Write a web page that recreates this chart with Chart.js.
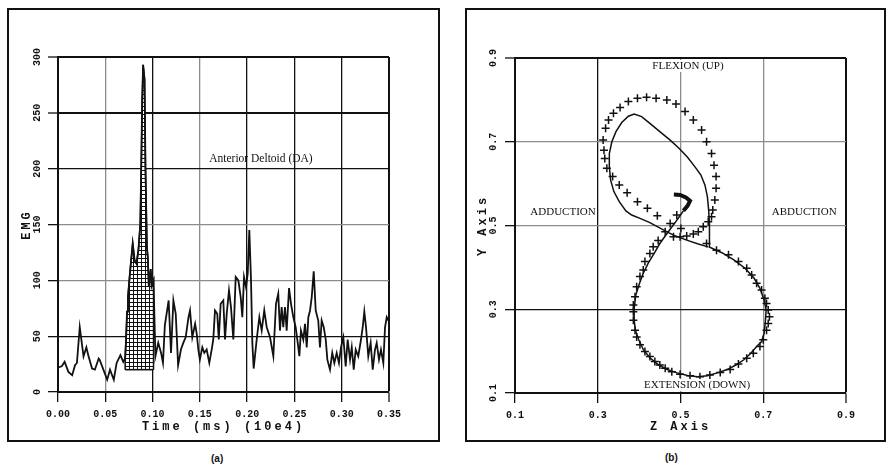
<!DOCTYPE html>
<html>
<head>
<meta charset="utf-8">
<script src="https://cdn.jsdelivr.net/npm/chart.js@4.4.1/dist/chart.umd.min.js"></script>
<style>
body { margin: 0; background: #fff; }
#page { position: relative; width: 886px; height: 465px; overflow: hidden; background: #fff; }
.frame { position: absolute; border: 2px solid #111; }
.frame canvas { display: block; }
.cap { position: absolute; font: bold 10px "Liberation Sans", sans-serif; color: #111; }
</style>
</head>
<body>
<div id="page">
  <div class="frame" style="left:7px;top:8px;width:429px;height:430px"><canvas id="emgChart" width="429" height="430"></canvas></div>
  <div class="frame" style="left:465px;top:8px;width:417px;height:430px"><canvas id="pathChart" width="417" height="430"></canvas></div>
  <div class="cap" style="left:211px;top:453px">(a)</div>
  <div class="cap" style="left:665px;top:452px">(b)</div>
</div>
<script>
// (a) EMG of the anterior deltoid
const emgTime = [0.000,0.004,0.007,0.011,0.015,0.018,0.020,0.023,0.027,0.030,0.032,0.036,0.039,0.043,0.044,0.048,0.052,0.055,0.059,0.062,0.066,0.069,
  0.071,0.072,0.073,0.074,0.076,0.079,0.081,0.083,0.085,0.087,0.088,0.089,0.090,0.0915,0.0925,0.094,0.095,0.096,0.098,0.099,0.101,
  0.103,0.106,0.109,0.111,0.113,0.117,0.1195,0.122,0.1245,0.127,0.130,0.1325,0.135,0.138,0.1396,0.142,0.145,0.1467,0.1484,0.150,
  0.1526,0.1547,0.1572,0.160,0.1625,0.1642,0.166,0.1684,0.170,0.172,0.1748,0.1766,0.1784,0.1808,0.1829,0.1854,0.1879,0.1907,0.1932,
  0.1949,0.1967,0.1988,0.2006,0.2023,0.2041,0.2055,0.2069,0.2101,0.2129,0.2154,0.2181,0.2207,0.2242,0.2277,0.2305,0.2329,0.2347,
  0.2365,0.2382,0.2400,0.2418,0.2443,0.2464,0.2488,0.2513,0.2535,0.2552,0.2569,0.2594,0.2612,0.2630,0.2647,0.2665,0.2683,0.2704,
  0.2725,0.2752,0.2770,0.2788,0.2810,0.2831,0.2848,0.2876,0.2900,0.2922,0.2947,0.2971,0.2992,0.3017,0.3042,0.3063,0.3088,0.3106,
  0.3127,0.3148,0.3175,0.3204,0.3222,0.3239,0.3257,0.3281,0.3306,0.3328,0.3352,0.3370,0.3394,0.3415,0.3440,0.3458,0.3476,0.3493]
const emgValue = [22,23,27,18,15,24,26,58,32,40,33,21,20,30,29,20,11,20,11,26,33,27,
  30,48,72,85,106,133,118,115,127,150,200,260,293,280,200,130,120,95,110,95,100,
  32,44,35,26,60,82,35,82,70,24,38,44,49,67,73,49,61,52,38,29,
  40,35,38,26,38,47,73,70,47,79,82,47,70,91,76,47,103,100,85,
  67,103,94,106,145,100,44,21,47,67,55,73,58,49,32,79,88,55,
  76,58,76,55,93,79,67,58,44,32,55,47,61,40,67,73,85,108,
  73,64,40,64,58,47,29,20,35,26,35,26,40,49,23,47,29,40,
  20,38,32,47,58,72,58,32,44,20,38,44,29,38,26,58,67,64]
// hatched burst
const hatchFrom = 0.071
const hatchTo = 0.101
const hatchFloor = 20

// (b) hand path in the Z-Y plane
const pathZ = [0.484,0.499,0.513,0.523,0.517,0.507,0.497,0.487,0.475,0.463,0.450,0.436,0.422,0.410,0.401,0.392,0.388,0.388,0.391,0.399,
  0.410,0.426,0.446,0.468,0.492,0.517,0.541,0.565,0.589,0.613,0.636,0.654,0.670,0.684,0.696,0.702,0.705,0.707,0.702,0.692,
  0.678,0.656,0.629,0.600,0.571,0.570,0.570,0.568,0.565,0.559,0.549,0.535,0.517,0.497,0.475,0.450,0.426,0.406,0.388,0.374,
  0.358,0.344,0.334,0.328,0.328,0.331,0.339,0.352,0.368,0.382,0.402,0.426,0.454,0.483,0.515,0.543,0.567]
const pathY = [0.574,0.573,0.567,0.559,0.547,0.535,0.521,0.507,0.491,0.475,0.457,0.433,0.410,0.386,0.362,0.334,0.302,0.274,0.250,0.227,
  0.204,0.184,0.168,0.156,0.148,0.142,0.139,0.141,0.148,0.156,0.168,0.180,0.195,0.211,0.223,0.242,0.270,0.298,0.322,0.350,
  0.374,0.398,0.418,0.435,0.448,0.473,0.505,0.537,0.569,0.597,0.621,0.640,0.663,0.684,0.704,0.724,0.744,0.760,0.766,0.761,
  0.746,0.724,0.700,0.672,0.640,0.609,0.581,0.557,0.535,0.525,0.517,0.507,0.492,0.477,0.465,0.456,0.449]
const markZ = [0.319,0.313,0.315,0.317,0.322,0.336,0.352,0.371,0.396,0.420,0.444,
  0.326,0.338,0.354,0.374,0.396,0.418,0.441,0.467,0.489,0.511,0.531,0.551,0.563,0.575,0.581,0.586,0.586,0.583,0.578,
  0.575,0.567,0.555,0.543,0.531,0.515,0.499,0.483,
  0.475,0.491,0.501,0.463,0.446,
  0.434,0.426,0.414,0.410,0.402,0.394,0.390,0.386,0.386,0.386,0.390,0.394,0.402,0.414,0.426,0.438,0.450,0.463,0.479,0.499,
  0.523,0.547,0.571,0.596,0.620,0.640,0.660,0.676,0.692,0.700,0.708,0.712,0.715,0.712,0.708,0.704,0.696,0.684,0.672,0.660,
  0.640,0.616,0.587,0.563]
const markY = [0.732,0.704,0.680,0.660,0.637,0.617,0.597,0.578,0.557,0.541,0.523,
  0.752,0.768,0.782,0.796,0.804,0.806,0.804,0.800,0.790,0.772,0.752,0.728,0.700,0.672,0.644,0.617,0.589,0.561,0.537,
  0.521,0.509,0.497,0.485,0.480,0.475,0.473,0.473,
  0.505,0.525,0.493,0.485,0.464,
  0.449,0.433,0.414,0.394,0.378,0.354,0.330,0.310,0.294,0.274,0.250,0.234,0.215,0.199,0.187,0.175,0.167,0.159,0.151,0.145,
  0.141,0.139,0.143,0.149,0.156,0.169,0.183,0.195,0.211,0.227,0.250,0.266,0.282,0.298,0.314,0.326,0.346,0.362,0.382,0.398,
  0.414,0.430,0.441,0.457]

const ink = '#111'
const faint = '#8c8c8c'
const tickFont = { family: 'Liberation Mono', size: 10, weight: 'bold' }
const titleFont = { family: 'Liberation Mono', size: 12, weight: 'bold' }

function hatchPattern() {
  const c = document.createElement('canvas')
  c.width = 4; c.height = 4
  const g = c.getContext('2d')
  g.fillStyle = '#fff'; g.fillRect(0, 0, 4, 4)
  g.fillStyle = ink; g.fillRect(0, 0, 4, 1); g.fillRect(0, 0, 1, 4)
  return g.createPattern(c, 'repeat')
}

// spaced letters for the axis titles only (labels are drawn later, on z 1)
const spacedTitles = {
  id: 'spacedTitles',
  beforeDraw(chart) { chart.ctx.letterSpacing = '3px' },
  beforeDatasetsDraw(chart) { chart.ctx.letterSpacing = '0px' }
}

function notes(items, font) {
  return {
    id: 'notes',
    afterDraw(chart) {
      const { ctx, scales: { x, y } } = chart
      ctx.save()
      ctx.font = font
      ctx.textAlign = 'center'
      ctx.textBaseline = 'middle'
      items.forEach(n => {
        const px = x.getPixelForValue(n.x), py = y.getPixelForValue(n.y)
        if (n.clear) {
          const w = ctx.measureText(n.text).width
          ctx.fillStyle = '#fff'
          ctx.fillRect(px - w / 2 - 2, py - 6, w + 4, 12)
        }
        ctx.fillStyle = ink
        ctx.fillText(n.text, px, py)
      })
      ctx.restore()
    }
  }
}

function axis(opts) {
  return {
    type: 'linear',
    min: opts.min, max: opts.max,
    afterFit: opts.fit,
    border: { color: ink, width: 2 },
    grid: {
      color: c => opts.faint.includes(Math.round((c.tick ? c.tick.value : 0) * opts.k)) ? faint : ink,
      lineWidth: c => opts.heavy.includes(Math.round((c.tick ? c.tick.value : 0) * opts.k)) ? 2 : 1.3,
      tickLength: 10, tickColor: ink, tickWidth: 1.3
    },
    ticks: Object.assign({ stepSize: opts.step, autoSkip: false, font: tickFont, color: ink, z: 1, callback: opts.fmt }, opts.ticks),
    title: Object.assign({ display: true, text: opts.title, font: titleFont, color: ink }, opts.titleOpts)
  }
}

const emgPoints = emgTime.map((t, i) => ({ x: t, y: emgValue[i] }))
const hatchPoints = [{ x: hatchFrom, y: hatchFloor }]
  .concat(emgPoints.filter(p => p.x >= hatchFrom && p.x <= hatchTo))
  .concat([{ x: hatchTo, y: hatchFloor }])

new Chart(document.getElementById('emgChart'), {
  type: 'line',
  data: {
    datasets: [{
      label: 'EMG',
      data: emgPoints,
      borderColor: ink,
      borderWidth: 1.8,
      pointRadius: 0,
      tension: 0,
      order: 0
    }, {
      label: 'burst',
      data: hatchPoints,
      borderColor: ink,
      borderWidth: 1.5,
      backgroundColor: hatchPattern(),
      fill: { value: hatchFloor },
      pointRadius: 0,
      tension: 0,
      order: 2
    }, {
      label: 'burst base',
      data: [{ x: hatchFrom, y: hatchFloor }, { x: hatchTo, y: hatchFloor }],
      borderColor: ink,
      borderWidth: 1.6,
      pointRadius: 0,
      order: 1
    }]
  },
  options: {
    responsive: false,
    animation: false,
    layout: { padding: { left: 0, top: 47, right: 49, bottom: 3 } },
    plugins: { legend: { display: false }, tooltip: { enabled: false } },
    scales: {
      x: axis({ min: 0, max: 0.35, step: 0.05, k: 100, faint: [5, 15], heavy: [35],
        fmt: v => v.toFixed(2), fit: s => { s.height = 45 },
        ticks: { padding: 6, maxRotation: 0 },
        title: 'Time (ms) (10e4)', titleOpts: { padding: { top: 0, bottom: 3 } } }),
      y: axis({ min: 0, max: 300, step: 50, k: 1, faint: [100, 150], heavy: [250, 300],
        fmt: v => v, fit: s => { s.width = 49 },
        ticks: { padding: 2, minRotation: 90, maxRotation: 90, crossAlign: 'center' },
        title: 'EMG', titleOpts: { padding: { top: 11, bottom: 0 } } })
    }
  },
  plugins: [spacedTitles, notes([{ text: 'Anterior Deltoid (DA)', x: 0.2146, y: 209 }], '11.5px "Liberation Serif"')]
})

new Chart(document.getElementById('pathChart'), {
  type: 'scatter',
  data: {
    datasets: [{
      label: 'path',
      data: pathZ.map((z, i) => ({ x: z, y: pathY[i] })),
      showLine: true,
      borderColor: ink,
      borderWidth: 1.5,
      pointRadius: 0,
      tension: 0,
      segment: { borderWidth: c => c.p0DataIndex < 5 ? 4 : 1.5 }
    }, {
      label: 'target',
      data: markZ.map((z, i) => ({ x: z, y: markY[i] })),
      showLine: false,
      pointStyle: 'cross',
      pointRadius: 4,
      borderColor: ink,
      borderWidth: 1.5
    }]
  },
  options: {
    responsive: false,
    animation: false,
    layout: { padding: { left: 0, top: 48, right: 38, bottom: 3 } },
    plugins: { legend: { display: false }, tooltip: { enabled: false } },
    scales: {
      x: axis({ min: 0.1, max: 0.9, step: 0.2, k: 100, faint: [50, 70], heavy: [90],
        fmt: v => v.toFixed(1), fit: s => { s.height = 44 },
        ticks: { padding: 6, maxRotation: 0 },
        title: 'Z Axis', titleOpts: { padding: { top: 0, bottom: 3 } } }),
      y: axis({ min: 0.1, max: 0.9, step: 0.2, k: 100, faint: [50, 70], heavy: [90],
        fmt: v => v.toFixed(1), fit: s => { s.width = 48 },
        ticks: { padding: 3, minRotation: 90, maxRotation: 90, crossAlign: 'center' },
        title: 'Y Axis', titleOpts: { padding: { top: 9, bottom: 0 } } })
    }
  },
  plugins: [spacedTitles, notes([
    { text: 'FLEXION (UP)', x: 0.518, y: 0.881, clear: true },
    { text: 'ADDUCTION', x: 0.216, y: 0.532 },
    { text: 'ABDUCTION', x: 0.799, y: 0.532 },
    { text: 'EXTENSION (DOWN)', x: 0.540, y: 0.119, clear: true }
  ], '11px "Liberation Serif"')]
})
</script>
</body>
</html>
